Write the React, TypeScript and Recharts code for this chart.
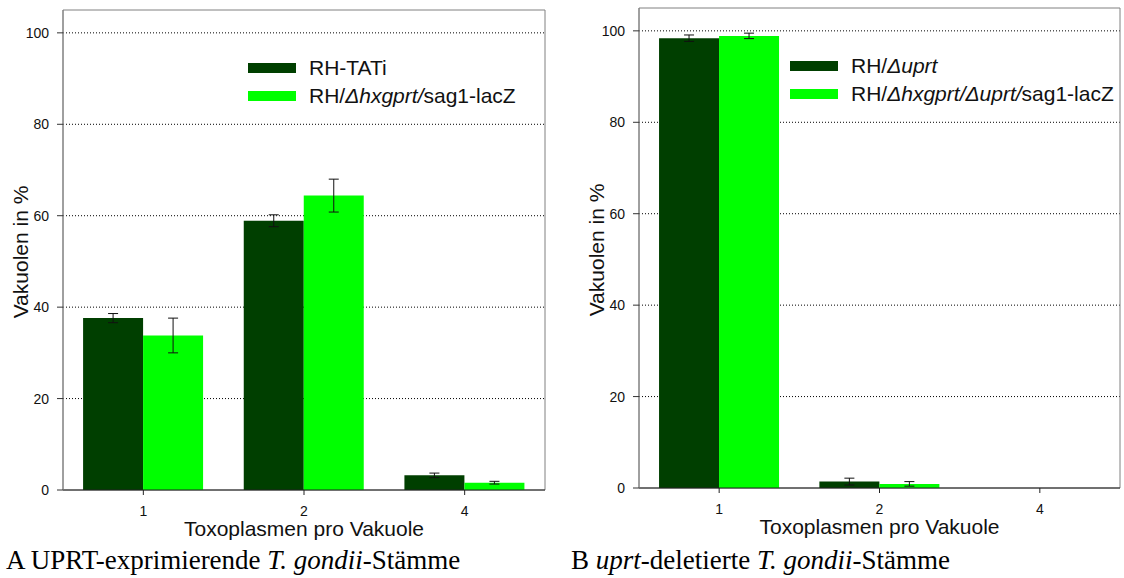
import React from 'react';
import { BarChart, Bar, XAxis, YAxis, CartesianGrid, ErrorBar, Legend, Label, ReferenceArea } from 'recharts';

const categories = ['1', '2', '4'];
const yTicks = [0, 20, 40, 60, 80, 100];

// Panel A
const seriesA1 = [37.6, 58.9, 3.2];
const errA1 = [1.0, 1.3, 0.5];
const seriesA2 = [33.8, 64.4, 1.6];
const errA2 = [3.8, 3.6, 0.3];

// Panel B
const seriesB1 = [98.4, 1.4, 0];
const errB1 = [0.7, 0.75, 0];
const seriesB2 = [98.9, 0.9, 0];
const errB2 = [0.6, 0.5, 0];

type Seg = { t: string; i?: boolean };
const legendA: Seg[][] = [
  [{ t: 'RH-TATi' }],
  [{ t: 'RH/' }, { t: 'Δhxgprt/', i: true }, { t: 'sag1-lacZ' }],
];
const legendB: Seg[][] = [
  [{ t: 'RH/' }, { t: 'Δuprt', i: true }],
  [{ t: 'RH/' }, { t: 'Δhxgprt/Δuprt/', i: true }, { t: 'sag1-lacZ' }],
];

const xTitle = 'Toxoplasmen pro Vakuole';
const yTitle = 'Vakuolen in %';
const captionA: Seg[] = [{ t: 'A UPRT-exprimierende ' }, { t: 'T. gondii', i: true }, { t: '-Stämme' }];
const captionB: Seg[] = [{ t: 'B ' }, { t: 'uprt', i: true }, { t: '-deletierte ' }, { t: 'T. gondii', i: true }, { t: '-Stämme' }];

const DARK = '#003f00';
const LIGHT = '#00ff00';
const FONT = '"Liberation Sans", Arial, sans-serif';
const SERIF = '"Liberation Serif", "Times New Roman", serif';

const buildData = (s1: number[], e1: number[], s2: number[], e2: number[]) =>
  categories.map((c, i) => ({ cat: c, a: s1[i], aErr: e1[i], b: s2[i], bErr: e2[i] }));

const dataA = buildData(seriesA1, errA1, seriesA2, errA2);
const dataB = buildData(seriesB1, errB1, seriesB2, errB2);

const renderSegs = (segs: Seg[]) =>
  segs.map((s, k) => (s.i ? <i key={k}>{s.t}</i> : <span key={k}>{s.t}</span>));

const makeLegend = (labels: Seg[][]) => () => (
  <div style={{ fontFamily: FONT, fontSize: 21, color: '#111', whiteSpace: 'nowrap' }}>
    {labels.map((segs, idx) => (
      <div key={idx} style={{ display: 'flex', alignItems: 'center', height: 28, lineHeight: '28px' }}>
        <span
          style={{
            display: 'inline-block',
            width: 48,
            height: 10,
            background: idx === 0 ? DARK : LIGHT,
            marginRight: 13,
          }}
        />
        <span>{renderSegs(segs)}</span>
      </div>
    ))}
  </div>
);

const XTitle = (props: any) => {
  const vb = props.viewBox || {};
  return (
    <text
      x={vb.x + vb.width / 2}
      y={vb.y + 46}
      textAnchor="middle"
      fontFamily={FONT}
      fontSize={21}
      fill="#111"
    >
      {xTitle}
    </text>
  );
};

const YTitle = (props: any) => {
  const vb = props.viewBox || {};
  const x = vb.x + vb.width - 35;
  const y = vb.y + vb.height / 2 + 2;
  return (
    <text
      x={0}
      y={0}
      transform={`translate(${x},${y}) rotate(-90)`}
      textAnchor="middle"
      fontFamily={FONT}
      fontSize={21}
      fill="#111"
    >
      {yTitle}
    </text>
  );
};

type PanelProps = {
  data: any[];
  width: number;
  margin: { top: number; right: number; bottom: number; left: number };
  yAxisWidth: number;
  legend: Seg[][];
  legendPos: { left: number; top: number };
};

const Panel = ({ data, width, margin, yAxisWidth, legend, legendPos }: PanelProps) => (
  <BarChart
    width={width}
    height={578}
    data={data}
    margin={margin}
    barGap={0}
    barCategoryGap="12.5%"
    style={{ fontFamily: FONT }}
  >
    <CartesianGrid horizontal vertical={false} stroke="#000" strokeDasharray="1 2" horizontalValues={yTicks.slice(1)} />
    <ReferenceArea y1={0} y2={105} fill="none" stroke="#808080" strokeWidth={1} ifOverflow="visible" />
    <XAxis
      dataKey="cat"
      height={46}
      tickSize={5}
      tickMargin={11}
      tick={{ fontSize: 14, fill: '#111', fontFamily: FONT }}
      axisLine={{ stroke: '#222' }}
      tickLine={{ stroke: '#222' }}
    >
      <Label content={<XTitle />} />
    </XAxis>
    <YAxis
      domain={[0, 105]}
      ticks={yTicks}
      width={yAxisWidth}
      tickSize={6}
      tickMargin={8}
      tick={{ fontSize: 14, fill: '#111', fontFamily: FONT }}
      axisLine={{ stroke: '#808080' }}
      tickLine={{ stroke: '#333' }}
      allowDataOverflow
    >
      <Label content={<YTitle />} />
    </YAxis>
    <Legend
      layout="vertical"
      align="center"
      verticalAlign="middle"
      content={makeLegend(legend)}
      wrapperStyle={{ left: legendPos.left, top: legendPos.top, width: 'auto', height: 'auto' }}
    />
    <Bar dataKey="a" fill={DARK} isAnimationActive={false}>
      <ErrorBar dataKey="aErr" width={5} stroke="#111" strokeWidth={1} direction="y" />
    </Bar>
    <Bar dataKey="b" fill={LIGHT} isAnimationActive={false}>
      <ErrorBar dataKey="bErr" width={5} stroke="#111" strokeWidth={1} direction="y" />
    </Bar>
  </BarChart>
);

const captionStyle: React.CSSProperties = {
  position: 'absolute',
  top: 545,
  fontFamily: SERIF,
  fontSize: 27,
  lineHeight: '30px',
  color: '#000',
  whiteSpace: 'nowrap',
};

export default function App() {
  return (
    <div
      style={{
        position: 'absolute',
        left: 0,
        top: 0,
        width: 1124,
        height: 578,
        background: '#fff',
        overflow: 'hidden',
      }}
    >
      <div style={{ position: 'absolute', left: 0, top: 0 }}>
        <Panel
          data={dataA}
          width={560}
          margin={{ top: 10, right: 15, bottom: 42, left: 0 }}
          yAxisWidth={63}
          legend={legendA}
          legendPos={{ left: 248, top: 54 }}
        />
      </div>
      <div style={{ position: 'absolute', left: 560, top: 0 }}>
        <Panel
          data={dataB}
          width={564}
          margin={{ top: 8, right: 4, bottom: 44, left: 0 }}
          yAxisWidth={79}
          legend={legendB}
          legendPos={{ left: 230, top: 52 }}
        />
      </div>
      <div style={{ ...captionStyle, left: 6 }}>{renderSegs(captionA)}</div>
      <div style={{ ...captionStyle, left: 571 }}>{renderSegs(captionB)}</div>
    </div>
  );
}
